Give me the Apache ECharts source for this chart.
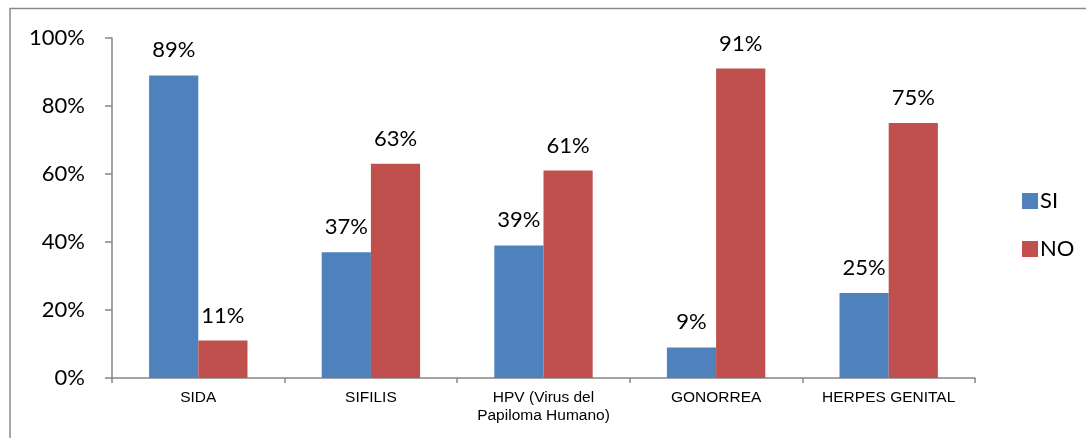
<!DOCTYPE html>
<html>
<head>
<meta charset="utf-8">
<script src="https://cdn.jsdelivr.net/npm/echarts@6/dist/echarts.min.js"></script>
<style>
html,body{margin:0;padding:0;background:#fff;}
#c{width:1086px;height:438px;}
</style>
</head>
<body>
<div id="c"></div>
<script>
const categories = ['SIDA', 'SIFILIS', 'HPV (Virus del\nPapiloma Humano)', 'GONORREA', 'HERPES GENITAL'];
const siValues = [89, 37, 39, 9, 25];
const noValues = [11, 63, 61, 91, 75];
const yTicks = [0, 20, 40, 60, 80, 100];

const chart = echarts.init(document.getElementById('c'), null, {renderer: 'canvas'});
const numFont = 'Lato, "Open Sans", sans-serif';
const labelCfg = {
  show: true, position: 'top', distance: 14,
  formatter: p => p.value + '%',
  fontFamily: numFont, fontSize: 22, color: '#000'
};
chart.setOption({
  animation: false,
  graphic: [{
    type: 'polyline',
    shape: {points: [[10, 438], [10, 8.5], [1086, 8.5]]},
    style: {stroke: '#8a8a8a', lineWidth: 1.5, fill: null}
  }],
  grid: {left: 112, right: 111, top: 38, bottom: 60},
  legend: {
    orient: 'vertical', left: 1017, top: 185,
    itemWidth: 16, itemHeight: 16, itemGap: 26,
    icon: 'rect',
    textStyle: {fontFamily: numFont, fontSize: 22, color: '#000', padding: [0, 0, 0, -3]},
    data: ['SI', 'NO']
  },
  xAxis: {
    type: 'category', data: categories,
    axisLine: {lineStyle: {color: '#868686', width: 1.5}},
    axisTick: {show: true, length: 5, alignWithLabel: false, lineStyle: {color: '#868686', width: 1.5}},
    axisLabel: {fontFamily: '"Liberation Sans", Arial, sans-serif', fontSize: 15.5, color: '#000', margin: 11, lineHeight: 18, interval: 0}
  },
  yAxis: {
    type: 'value', min: 0, max: 100, interval: 20,
    splitLine: {show: false},
    axisLine: {show: true, lineStyle: {color: '#868686', width: 1.5}},
    axisTick: {show: true, length: 7, lineStyle: {color: '#868686', width: 1.5}},
    axisLabel: {
      formatter: v => yTicks.includes(v) ? v + '%' : '',
      fontFamily: numFont, fontSize: 22, color: '#000', margin: 27
    }
  },
  series: [
    {name: 'SI', type: 'bar', data: siValues, barGap: '0%', barCategoryGap: '43%',
     itemStyle: {color: '#4F81BD'}, label: labelCfg},
    {name: 'NO', type: 'bar', data: noValues,
     itemStyle: {color: '#C0504D'}, label: labelCfg}
  ]
});
</script>
</body>
</html>
